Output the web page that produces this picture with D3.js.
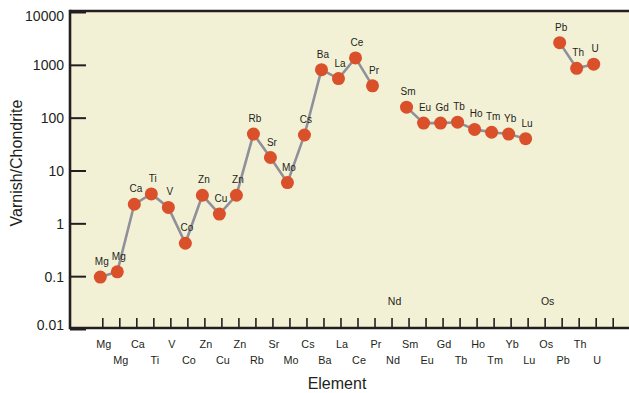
<!DOCTYPE html>
<html>
<head>
<meta charset="utf-8">
<script src="https://cdn.jsdelivr.net/npm/d3@7"></script>
<style>
  html, body { margin: 0; padding: 0; background: #ffffff; }
  svg { display: block; }
  text { font-family: "Liberation Sans", Arial, Helvetica, sans-serif; fill: #231f20; }
</style>
</head>
<body>
<svg id="chart" width="629" height="393"></svg>
<script>
// ---- Data ----
const categories = ["Mg","Mg","Ca","Ti","V","Co","Zn","Cu","Zn","Rb","Sr","Mo","Cs","Ba","La","Ce","Pr","Nd","Sm","Eu","Gd","Tb","Ho","Tm","Yb","Lu","Os","Pb","Th","U"];
const values = [0.096,0.121,2.3,3.6,2.0,0.42,3.4,1.5,3.4,49,17.6,5.9,47,810,550,1350,400,null,158,79,79,82,60,53,49,40,null,2630,860,1030];
const yTicks = [0.01, 0.1, 1, 10, 100, 1000, 10000];
const yTickLabels = ["0.01", "0.1", "1", "10", "100", "1000", "10000"];
const xTitle = "Element";
const yTitle = "Varnish/Chondrite";

// ---- Layout ----
const plot = { left: 70, right: 629, top: 11, bottom: 328 };
const bg = "#f3f1d5";
const ink = "#231f20";
const dotColor = "#d9502a";
const lineColor = "#8f9099";

const svg = d3.select("#chart");

const x = d3.scaleLinear().domain([0, categories.length]).range([102.3, 612.7]);
const y = d3.scaleLog().domain([0.01, 10000]).range([329, 12]);
const px = i => x(i) - 2;

const data = categories.map((c, i) => ({ c, i, v: values[i] }));

// background
svg.append("rect")
  .attr("x", plot.left).attr("y", plot.top)
  .attr("width", plot.right - plot.left).attr("height", plot.bottom - plot.top)
  .attr("fill", bg);

// connecting lines (gaps at missing values)
const line = d3.line()
  .defined(d => d.v != null)
  .x(d => px(d.i))
  .y(d => y(d.v));
svg.append("path")
  .datum(data)
  .attr("d", line)
  .attr("fill", "none")
  .attr("stroke", lineColor)
  .attr("stroke-width", 2.6);

// points
svg.append("g").selectAll("circle")
  .data(data.filter(d => d.v != null))
  .join("circle")
  .attr("cx", d => px(d.i))
  .attr("cy", d => y(d.v))
  .attr("r", 6.5)
  .attr("fill", dotColor);

// point labels
svg.append("g").selectAll("text")
  .data(data)
  .join("text")
  .attr("x", d => d.v != null ? px(d.i) + 1.5 : x(d.i) + 3)
  .attr("y", d => d.v != null ? y(d.v) - 12 : 305)
  .attr("text-anchor", "middle")
  .attr("font-size", d => d.v != null ? 10 : 10.5)
  .text(d => d.c);

// x axis ticks (inside, upward)
const xAxis = d3.axisBottom(x)
  .tickValues(d3.range(categories.length + 1))
  .tickSizeInner(-10)
  .tickSizeOuter(0)
  .tickFormat("");
const gx = svg.append("g")
  .attr("transform", `translate(0,${plot.bottom})`)
  .call(xAxis);
gx.select(".domain").remove();
gx.selectAll(".tick line").attr("stroke", ink).attr("stroke-width", 1.6);

// x tick labels, staggered in two rows
svg.append("g").selectAll("text")
  .data(data)
  .join("text")
  .attr("x", d => x(d.i) + 1.5)
  .attr("y", d => d.i % 2 === 0 ? 348 : 364)
  .attr("text-anchor", "middle")
  .attr("font-size", 10.8)
  .text(d => d.c);

// y axis ticks (inside, to the right)
const yAxis = d3.axisLeft(y)
  .tickValues(yTicks)
  .tickSizeInner(-16)
  .tickSizeOuter(0)
  .tickFormat((d, i) => yTickLabels[i]);
const gy = svg.append("g")
  .attr("transform", `translate(${plot.left},0)`)
  .call(yAxis);
gy.select(".domain").remove();
gy.selectAll(".tick line").attr("stroke", ink).attr("stroke-width", 2);
gy.selectAll(".tick text")
  .attr("x", -6)
  .attr("font-size", 14)
  .attr("fill", ink)
  .attr("font-family", "Liberation Sans, Arial, sans-serif")
  .attr("dy", (d, i) => i === yTicks.length - 1 ? "0.62em" : (i === 0 ? "0.05em" : "0.36em"));

// frame lines
const frame = svg.append("g").attr("stroke", ink).attr("stroke-width", 2.6).attr("fill", "none");
frame.append("line").attr("x1", plot.left).attr("x2", plot.left).attr("y1", plot.top - 1.3).attr("y2", plot.bottom + 1.3);
frame.append("line").attr("x1", plot.left).attr("x2", plot.right).attr("y1", plot.top).attr("y2", plot.top);
frame.append("line").attr("x1", plot.left).attr("x2", plot.right).attr("y1", plot.bottom).attr("y2", plot.bottom);

// titles
svg.append("text")
  .attr("x", 337).attr("y", 389)
  .attr("text-anchor", "middle")
  .attr("font-size", 16)
  .text(xTitle);
svg.append("text")
  .attr("transform", `translate(22,163) rotate(-90)`)
  .attr("text-anchor", "middle")
  .attr("font-size", 16)
  .text(yTitle);
</script>
</body>
</html>
